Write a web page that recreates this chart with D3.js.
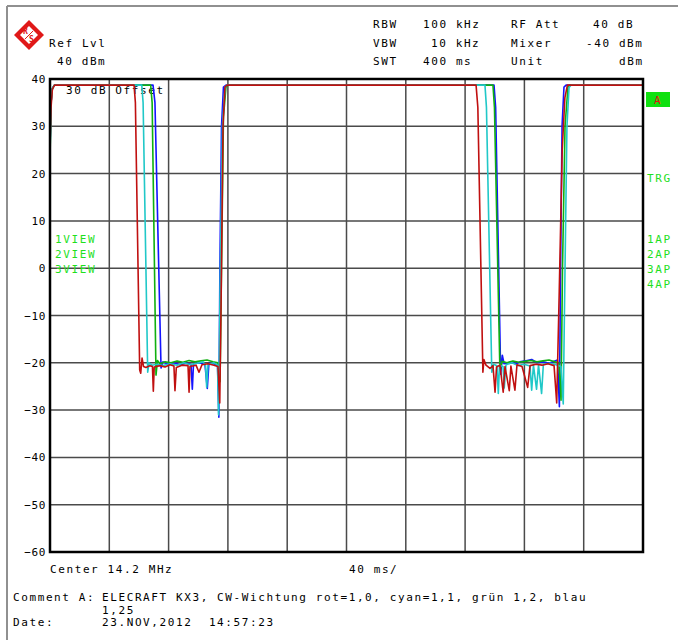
<!DOCTYPE html>
<html><head><meta charset="utf-8">
<script src="https://cdn.jsdelivr.net/npm/d3@7"></script>
<style>
html,body{margin:0;padding:0;background:#fff;}
svg text{font-family:"DejaVu Sans Mono",monospace;font-size:11px;letter-spacing:1.6px;white-space:pre;}
</style></head>
<body><svg id="c" width="678" height="640"></svg>
<script>
// ---- data ----
const yTicks = [40, 30, 20, 10, 0, -10, -20, -30, -40, -50, -60];
const xGrid = [0, 40, 80, 120, 160, 200, 240, 280, 320, 360, 400];
const traceNames = ["blau", "grün", "cyan", "rot"];
const traceColors = ["#1414ff", "#10b010", "#20c8c8", "#c01010"];
// time (ms) , level (dBm)
const blueTrace = [[0,25],[0.7,35],[1.6,38],[3,38.7],[69.5,38.7],[70.8,35],[74.9,-21.1],[76.2,-19.8],[79.6,-20.3],[83.6,-20.0],[87.7,-20.4],[91.7,-20.1],[95.1,-20.3],[96.0,-25.6],[96.8,-20.2],[100.5,-20.0],[104.5,-20.3],[106.1,-25.4],[107.2,-20.1],[110.6,-20.2],[113.0,-20.5],[113.9,-31.5],[114.6,0],[115.7,30],[117.0,38.3],[118.7,38.7],[299.5,38.7],[300.6,34],[304.0,-22.4],[305.1,-18.4],[306.3,-20.2],[310.3,-19.9],[314.4,-20.2],[317.0,-19.8],[320.4,-19.6],[324.9,-19.3],[328.5,-20.0],[332.5,-19.8],[336.6,-20.1],[340.6,-19.6],[342.3,-19.4],[343.6,-29.3],[344.4,0],[345.4,30],[346.7,38.3],[348.1,38.7],[400,38.7]];
const greenTrace = [[0,23],[0.7,35],[1.6,38],[3,38.7],[67.9,38.7],[68.9,35],[71.5,-22.6],[72.5,-19.5],[74.2,-20.2],[77.6,-19.8],[81.6,-20.0],[85.7,-19.6],[89.7,-19.9],[93.8,-19.5],[97.8,-19.8],[101.9,-19.6],[105.9,-19.4],[109.9,-19.8],[113.3,-20.0],[114.7,-24],[115.7,0],[117.0,32],[118.7,38.3],[120.1,38.7],[298.8,38.7],[299.8,34],[303.5,-22],[304.9,-19.7],[308.2,-20.0],[312.3,-19.6],[316.3,-19.9],[320.4,-19.7],[324.4,-19.5],[328.5,-19.8],[332.5,-19.6],[336.6,-19.4],[340.6,-19.8],[343.3,-20.0],[344.7,-27.9],[345.7,0],[347.4,30],[349.4,38.3],[350.8,38.7],[400,38.7]];
const cyanTrace = [[0,24],[0.7,35],[1.6,38],[3,38.7],[61.9,38.7],[62.8,35],[65.9,-22.0],[66.8,-20.0],[68.8,-20.5],[72.2,-20.3],[76.2,-20.6],[80.9,-20.2],[85.7,-20.5],[90.4,-20.0],[94.4,-20.4],[99.2,-20.1],[103.2,-19.8],[104.9,-20.5],[105.7,-25.2],[106.6,-20.3],[110.6,-20.0],[113.0,-20.5],[113.7,-31.0],[114.7,-5],[116.3,30],[118.0,38.3],[119.4,38.7],[293.4,38.7],[294.4,34],[298.0,-22],[299.2,-20.3],[301.5,-20.6],[302.4,-26.5],[303.2,-20.5],[305.6,-20.8],[306.4,-25.3],[307.6,-20.4],[311.6,-20.0],[315.7,-20.6],[319.7,-20.3],[323.8,-20.7],[324.9,-25.8],[326.1,-20.5],[328.2,-25.6],[329.5,-20.4],[331.6,-26.5],[332.8,-20.3],[337.2,-20.1],[341.3,-20.4],[344.7,-20.8],[346.2,-28.7],[347.4,0],[348.7,30],[350.1,38.2],[351.4,38.7],[400,38.7]];
const redTrace = [[0,26],[0.7,34],[1.6,37.8],[3,38.7],[56.7,38.7],[57.6,35],[60.5,-21.5],[61.2,-22.2],[62.1,-19.0],[63.1,-20.8],[64.7,-21.0],[67.4,-20.6],[69.1,-20.8],[69.7,-26.0],[70.3,-20.9],[74.2,-20.6],[77.6,-20.9],[80.9,-20.4],[83.6,-20.7],[84.3,-25.9],[85.2,-21.0],[89.0,-20.5],[93.1,-20.6],[93.8,-26.2],[94.4,-20.8],[98.5,-20.5],[100.5,-22.0],[102.5,-20.4],[106.6,-20.2],[110.6,-20.5],[113.3,-20.8],[114.5,-28.5],[115.3,-10],[116.7,30],[118.0,38.3],[119.4,38.7],[287.4,38.7],[288.6,34],[292.0,-22],[292.7,-19.3],[294.1,-20.5],[296.8,-21.2],[298.8,-20.6],[300.2,-26.2],[301.2,-20.9],[303.5,-20.5],[305.7,-26.2],[306.9,-20.8],[309.8,-25.9],[310.9,-20.7],[313.6,-25.8],[315.0,-20.4],[318.4,-20.8],[322.2,-25.2],[323.8,-20.6],[327.8,-20.3],[331.9,-20.5],[335.9,-20.2],[340.0,-20.6],[341.8,-28.5],[343.5,-5],[345.5,25],[347.3,36],[349.0,38.7],[400,38.7]];
const traces = [blueTrace, greenTrace, cyanTrace, redTrace];

const headerLabels = ["RBW", "VBW", "SWT"];
const headerValues = ["100 kHz", "10 kHz", "400 ms"];
const headerLabels2 = ["RF Att", "Mixer", "Unit"];
const headerValues2 = ["40 dB", "-40 dBm", "dBm"];
const viewLabels = ["1VIEW", "2VIEW", "3VIEW"];
const apLabels = ["1AP", "2AP", "3AP", "4AP"];

// ---- layout ----
const svg = d3.select("#c");
const L = 50, R = 643, T = 79, B = 552;
const x = d3.scaleLinear().domain([0, 400]).range([L, R]);
const y = d3.scaleLinear().domain([-60, 40]).range([B, T]);
const green = "#1ee01e";

// outer frame
svg.append("line").attr("x1",7).attr("x2",678).attr("y1",6).attr("y2",6).attr("stroke","#909090").attr("stroke-width",2);
svg.append("line").attr("x1",7).attr("x2",7).attr("y1",6).attr("y2",640).attr("stroke","#909090").attr("stroke-width",2);

// R&S logo
const logo = svg.append("g").attr("transform","translate(29,35)");
logo.append("path").attr("d","M0,-15L15,0L0,15L-15,0Z").attr("fill","#e01818");
logo.append("path").attr("d","M0,-9L9,0L0,9L-9,0Z").attr("fill","#fff");
logo.append("text").attr("x",-6).attr("y",-1).attr("fill","#e01818").style("font-size","8px").style("letter-spacing","0px").style("font-weight","bold").text("R");
logo.append("text").attr("x",0).attr("y",7).attr("fill","#e01818").style("font-size","8px").style("letter-spacing","0px").style("font-weight","bold").text("S");
logo.append("path").attr("d","M-4,4L4,-4").attr("stroke","#e01818").attr("stroke-width",1);

svg.append("text").attr("x",49).attr("y",47).text("Ref Lvl");
svg.append("text").attr("x",57).attr("y",65).text("40 dBm");
const rowY = [28, 47, 65];
const hv1x = [423, 431, 423];
const hv2x = [593, 586, 619];
rowY.forEach((ry, i) => {
  svg.append("text").attr("x",373).attr("y",ry).text(headerLabels[i]);
  svg.append("text").attr("x",hv1x[i]).attr("y",ry).text(headerValues[i]);
  svg.append("text").attr("x",511).attr("y",ry).text(headerLabels2[i]);
  svg.append("text").attr("x",hv2x[i]).attr("y",ry).text(headerValues2[i]);
});

// grid
const grid = svg.append("g");
grid.selectAll("line.h").data(yTicks.slice(1, -1)).join("line")
  .attr("x1",L).attr("x2",R).attr("y1",d=>y(d)).attr("y2",d=>y(d))
  .attr("stroke","#4a4a4a").attr("stroke-width",1.5);
grid.selectAll("line.v").data(xGrid.slice(1, -1)).join("line")
  .attr("y1",T).attr("y2",B).attr("x1",d=>x(d)).attr("x2",d=>x(d))
  .attr("stroke","#4a4a4a").attr("stroke-width",1.5);

// y axis labels
const yAxis = svg.append("g").attr("transform",`translate(${L},0)`)
  .call(d3.axisLeft(y).tickValues(yTicks).tickSize(0).tickPadding(4).tickFormat(d3.format("d")));
yAxis.select(".domain").remove();
yAxis.selectAll("text").style("font-family","DejaVu Sans Mono, monospace").style("font-size","11px").style("letter-spacing","0.6px").attr("fill","#000");

// overlay text in plot
svg.append("text").attr("x",66).attr("y",94).text("30 dB Offset");
viewLabels.forEach((t,i)=>svg.append("text").attr("x",55).attr("y",243+15*i).attr("fill",green).text(t));

// traces
const line = d3.line().x(d=>x(d[0])).y(d=>y(d[1]));
traces.forEach((tr,i)=>{
  svg.append("path").datum(tr).attr("d",line).attr("fill","none")
    .attr("stroke",traceColors[i]).attr("stroke-width",1.6).attr("stroke-linejoin","round");
});

// plot frame
svg.append("rect").attr("x",L).attr("y",T).attr("width",R-L).attr("height",B-T)
  .attr("fill","none").attr("stroke","#000").attr("stroke-width",2.5);

// right side labels
svg.append("rect").attr("x",646).attr("y",92).attr("width",24).attr("height",15).attr("fill","#10e010");
svg.append("text").attr("x",654).attr("y",104).attr("fill","#e01010").text("A");
svg.append("text").attr("x",647).attr("y",182).attr("fill",green).text("TRG");
apLabels.forEach((t,i)=>svg.append("text").attr("x",647).attr("y",243+15*i).attr("fill",green).text(t));

// bottom texts
svg.append("text").attr("x",50).attr("y",573).text("Center 14.2 MHz");
svg.append("text").attr("x",349).attr("y",573).text("40 ms/");
svg.append("text").attr("x",13).attr("y",601).text("Comment A:");
svg.append("text").attr("x",102).attr("y",601).text("ELECRAFT KX3, CW-Wichtung rot=1,0, cyan=1,1, grün 1,2, blau");
svg.append("text").attr("x",102).attr("y",614).text("1,25");
svg.append("text").attr("x",13).attr("y",626).text("Date:");
svg.append("text").attr("x",102).attr("y",626).text("23.NOV,2012  14:57:23");
</script></body></html>
